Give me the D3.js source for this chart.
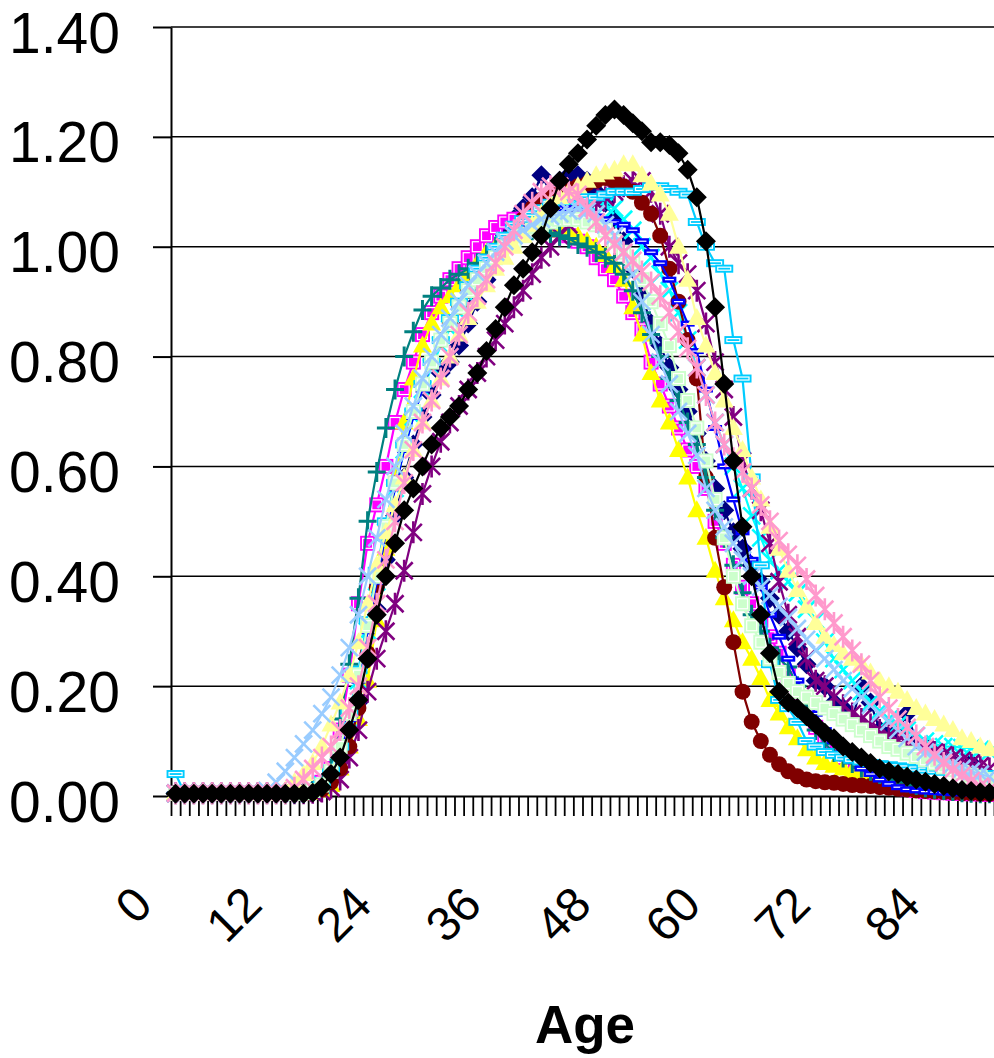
<!DOCTYPE html>
<html>
<head>
<meta charset="utf-8">
<script src="https://cdn.jsdelivr.net/npm/d3@7"></script>
<style>
  body { margin: 0; background: #fff; }
  svg { display: block; }
  text { font-family: "Liberation Sans", Arial, sans-serif; fill: #000; }
</style>
</head>
<body>
<div id="chart"></div>
<script>
// categories and tick labels
const ages = d3.range(0, 90);
const xTickAges = [0, 12, 24, 36, 48, 60, 72, 84];
const yTicks = [0, 0.2, 0.4, 0.6, 0.8, 1.0, 1.2, 1.4];

// series values, one per age 0..89
const navy = [
  .005,.005,.005,.005,.005,.005,.005,.005,.005,.005,
  .005,.005,.005,.005,.006,.01,.02,.04,.07,.12,
  .17,.25,.34,.43,.51,.58,.64,.69,.73,.77,
  .79,.82,.86,.90,.94,.98,1.02,1.05,1.07,1.09,
  1.13,1.10,1.12,1.13,1.13,1.12,1.10,1.08,1.05,1.01,
  .96,.91,.86,.82,.78,.74,.70,.66,.61,.56,
  .52,.48,.45,.42,.39,.36,.33,.30,.27,.24,
  .21,.20,.17,.16,.14,.20,.17,.12,.11,.12,
  .15,.10,.09,.08,.07,.06,.05,.06,.04,.03];
const magenta = [
  .005,.005,.005,.005,.005,.005,.005,.005,.005,.005,
  .005,.005,.005,.005,.006,.01,.025,.05,.12,.22,
  .35,.46,.53,.60,.68,.74,.79,.84,.88,.91,
  .94,.96,.98,1.0,1.02,1.035,1.045,1.05,1.05,1.045,
  1.04,1.035,1.03,1.02,1.01,1.0,.98,.96,.94,.91,
  .88,.85,.79,.75,.71,.67,.63,.60,.56,.50,
  .46,.42,.38,.35,.32,.29,.26,.22,.18,.15,
  .125,.10,.085,.07,.055,.045,.035,.028,.022,.017,
  .013,.01,.008,.007,.006,.005,.005,.004,.004,.003];
const yellow = [
  .005,.005,.005,.005,.005,.005,.005,.005,.005,.005,
  .005,.005,.005,.005,.005,.006,.01,.02,.05,.09,
  .14,.21,.32,.45,.58,.68,.76,.82,.86,.89,
  .91,.93,.95,.97,.99,1.0,1.01,1.02,1.025,1.03,
  1.03,1.03,1.03,1.025,1.02,1.01,1.0,.985,.965,.94,
  .89,.84,.77,.72,.68,.63,.58,.52,.47,.41,
  .36,.32,.28,.25,.215,.175,.15,.125,.105,.085,
  .07,.06,.055,.05,.045,.042,.038,.034,.03,.027,
  .024,.021,.018,.016,.014,.012,.01,.009,.008,.007];
const cyan = [
  .005,.005,.005,.005,.005,.005,.005,.005,.005,.005,
  .005,.005,.005,.005,.006,.01,.02,.04,.08,.14,
  .21,.30,.39,.48,.56,.63,.69,.74,.78,.82,
  .85,.88,.91,.94,.97,.99,1.01,1.03,1.04,1.05,
  1.06,1.07,1.075,1.08,1.08,1.08,1.08,1.075,1.07,1.05,
  1.03,1.0,.98,.95,.92,.88,.83,.78,.73,.68,
  .64,.60,.56,.51,.47,.43,.41,.39,.37,.34,
  .32,.28,.25,.23,.21,.19,.17,.155,.14,.13,
  .12,.11,.10,.095,.09,.09,.088,.087,.085,.08];
const purple = [
  .005,.005,.005,.005,.005,.005,.005,.005,.005,.005,
  .005,.005,.005,.005,.005,.006,.008,.015,.03,.07,
  .12,.19,.25,.30,.35,.41,.48,.55,.60,.645,
  .68,.71,.74,.77,.80,.83,.86,.89,.92,.95,
  .98,1.0,1.02,1.04,1.06,1.07,1.08,1.09,1.10,1.11,
  1.12,1.12,1.10,1.06,1.0,.97,.95,.92,.86,.79,
  .74,.69,.61,.56,.52,.46,.39,.33,.29,.25,
  .21,.20,.18,.165,.15,.14,.13,.12,.11,.10,
  .095,.09,.085,.08,.075,.07,.065,.06,.055,.05];
const maroon = [
  .005,.005,.005,.005,.005,.005,.005,.005,.005,.005,
  .005,.005,.005,.005,.005,.007,.012,.025,.05,.09,
  .16,.26,.38,.49,.57,.64,.70,.75,.79,.83,
  .86,.89,.92,.94,.97,.99,1.01,1.03,1.05,1.07,
  1.085,1.095,1.10,1.105,1.11,1.115,1.12,1.125,1.12,1.11,
  1.10,1.08,1.06,1.02,.96,.90,.83,.76,.58,.47,
  .38,.28,.19,.135,.10,.075,.058,.045,.036,.03,
  .027,.025,.024,.022,.02,.019,.018,.016,.015,.013,
  .012,.01,.009,.008,.007,.006,.005,.005,.004,.004];
const teal = [
  .005,.005,.005,.005,.005,.005,.005,.005,.005,.005,
  .005,.005,.005,.005,.006,.01,.02,.05,.14,.24,
  .36,.50,.59,.67,.74,.80,.845,.885,.91,.925,
  .94,.95,.96,.97,.985,1.0,1.01,1.02,1.025,1.03,
  1.03,1.025,1.02,1.015,1.005,1.0,.99,.98,.97,.95,
  .92,.88,.84,.80,.76,.72,.68,.64,.58,.52,
  .47,.42,.37,.33,.30,.27,.25,.235,.20,.16,
  .12,.095,.08,.07,.06,.052,.046,.04,.035,.03,
  .025,.02,.016,.013,.011,.009,.007,.006,.005,.005];
const blue = [
  .005,.005,.005,.005,.005,.005,.005,.005,.005,.005,
  .005,.005,.005,.005,.006,.01,.02,.04,.08,.14,
  .21,.30,.39,.48,.56,.63,.69,.74,.79,.83,
  .86,.89,.92,.95,.97,.99,1.01,1.03,1.04,1.05,
  1.06,1.07,1.07,1.07,1.065,1.06,1.055,1.05,1.045,1.04,
  1.03,1.01,.99,.97,.94,.90,.86,.81,.74,.67,
  .60,.54,.48,.43,.38,.33,.29,.25,.21,.18,
  .15,.12,.10,.08,.065,.05,.04,.03,.022,.016,
  .012,.01,.008,.007,.006,.005,.005,.005,.005,.005];
const skyBlue = [
  .04,.005,.005,.005,.005,.005,.005,.005,.005,.005,
  .005,.005,.005,.005,.006,.01,.02,.05,.09,.15,
  .23,.32,.41,.50,.57,.64,.70,.75,.79,.83,
  .87,.90,.93,.96,.98,1.0,1.02,1.04,1.05,1.06,
  1.07,1.08,1.085,1.09,1.09,1.09,1.09,1.095,1.10,1.10,
  1.10,1.105,1.11,1.11,1.105,1.10,1.095,1.045,1.0,.97,
  .96,.83,.76,.58,.42,.24,.175,.16,.135,.10,
  .09,.08,.075,.07,.066,.063,.06,.058,.056,.054,
  .052,.05,.048,.046,.044,.043,.042,.041,.04,.04];
const lightGreen = [
  .005,.005,.005,.005,.005,.005,.005,.005,.005,.005,
  .005,.005,.005,.005,.006,.01,.02,.045,.09,.15,
  .22,.31,.40,.49,.57,.64,.70,.75,.79,.83,
  .86,.89,.92,.94,.96,.98,1.0,1.01,1.02,1.03,
  1.04,1.045,1.05,1.05,1.05,1.045,1.04,1.03,1.01,.99,
  .97,.94,.90,.86,.82,.76,.72,.67,.61,.54,
  .47,.40,.35,.31,.28,.25,.225,.205,.19,.18,
  .17,.16,.15,.14,.13,.12,.11,.10,.09,.085,
  .078,.072,.066,.06,.053,.048,.043,.038,.034,.03];
const lightYellow = [
  .005,.005,.005,.005,.005,.005,.005,.005,.005,.005,
  .005,.008,.01,.025,.04,.06,.09,.13,.17,.22,
  .28,.35,.42,.48,.53,.58,.63,.68,.72,.76,
  .80,.84,.87,.90,.93,.96,.98,1.0,1.02,1.04,
  1.06,1.08,1.09,1.10,1.11,1.12,1.13,1.135,1.14,1.15,
  1.15,1.13,1.115,1.095,1.06,1.0,.94,.87,.82,.77,
  .72,.67,.63,.58,.54,.49,.45,.41,.375,.345,
  .315,.29,.275,.26,.25,.24,.225,.21,.20,.19,
  .175,.16,.15,.14,.13,.12,.105,.10,.09,.085];
const paleBlue = [
  .005,.005,.005,.005,.005,.005,.005,.005,.005,.005,
  .01,.025,.045,.07,.095,.12,.15,.18,.22,.27,
  .33,.40,.47,.54,.60,.66,.71,.76,.80,.84,
  .87,.90,.93,.95,.97,.99,1.01,1.02,1.03,1.04,
  1.05,1.055,1.06,1.065,1.07,1.065,1.06,1.04,1.02,.99,
  .95,.90,.84,.79,.75,.70,.66,.62,.56,.52,
  .49,.46,.43,.40,.38,.365,.345,.325,.305,.285,
  .265,.25,.23,.21,.195,.18,.165,.15,.135,.12,
  .105,.09,.08,.07,.065,.058,.05,.045,.04,.035];
const pink = [
  .005,.005,.005,.005,.005,.005,.005,.005,.005,.005,
  .005,.005,.005,.015,.03,.05,.07,.09,.12,.16,
  .20,.27,.35,.43,.50,.57,.63,.68,.72,.76,
  .80,.84,.88,.91,.94,.97,1.0,1.03,1.06,1.08,
  1.10,1.11,1.11,1.10,1.095,1.07,1.045,1.02,1.005,.99,
  .975,.955,.935,.91,.88,.845,.815,.78,.73,.68,
  .64,.615,.59,.56,.53,.50,.465,.44,.42,.395,
  .365,.34,.315,.29,.265,.24,.21,.18,.16,.14,
  .125,.11,.09,.075,.06,.048,.038,.028,.018,.012];
const black = [
  .004,.004,.004,.004,.004,.004,.004,.004,.004,.004,
  .004,.004,.004,.004,.004,.006,.016,.04,.07,.12,
  .175,.25,.33,.40,.46,.52,.56,.60,.64,.67,
  .69,.71,.74,.77,.81,.85,.89,.93,.96,.99,
  1.02,1.07,1.12,1.15,1.17,1.195,1.22,1.24,1.25,1.24,
  1.225,1.21,1.19,1.19,1.185,1.17,1.14,1.09,1.01,.89,
  .75,.61,.49,.40,.33,.26,.19,.17,.16,.145,
  .13,.115,.105,.09,.08,.07,.06,.05,.045,.04,
  .035,.03,.026,.022,.018,.014,.011,.009,.007,.006];

// drawing order and styling
const series = [
  { values: navy,        color: '#000080', marker: 'diamond' },
  { values: magenta,     color: '#FF00FF', marker: 'square' },
  { values: yellow,      color: '#FFFF00', marker: 'triangle' },
  { values: cyan,        color: '#00FFFF', marker: 'x' },
  { values: purple,      color: '#800080', marker: 'star' },
  { values: maroon,      color: '#800000', marker: 'circle' },
  { values: teal,        color: '#008080', marker: 'plus' },
  { values: blue,        color: '#0000FF', marker: 'dash' },
  { values: skyBlue,     color: '#00CCFF', marker: 'bar' },
  { values: lightGreen,  color: '#CCFFCC', marker: 'square' },
  { values: lightYellow, color: '#FFFF99', marker: 'triangle' },
  { values: paleBlue,    color: '#99CCFF', marker: 'x' },
  { values: pink,        color: '#FF99CC', marker: 'star' },
  { values: black,       color: '#000000', marker: 'diamond' }
];

const width = 994, height = 1058;
const plot = { left: 171, right: 994, top: 27, bottom: 796 };

const svg = d3.select('#chart')
  .append('svg')
  .attr('width', width)
  .attr('height', height);

const x = d3.scaleBand()
  .domain(ages)
  .range([plot.left, plot.right]);
const xEdge = d3.scaleLinear()
  .domain([0, ages.length])
  .range([plot.left, plot.right]);
const y = d3.scaleLinear()
  .domain([0, 1.4])
  .range([plot.bottom, plot.top]);
const cx = a => x(a) + x.bandwidth() / 2;

// gridlines
svg.append('g')
  .selectAll('line')
  .data(yTicks.filter(d => d > 0))
  .join('line')
    .attr('x1', plot.left)
    .attr('x2', plot.right)
    .attr('y1', d => y(d))
    .attr('y2', d => y(d))
    .attr('stroke', '#000')
    .attr('stroke-width', 1.5);

// y axis
const yAxis = svg.append('g')
  .attr('transform', `translate(${plot.left},0)`)
  .call(d3.axisLeft(y).tickValues(yTicks).tickFormat(d3.format('.2f'))
    .tickSize(18).tickSizeOuter(0).tickPadding(33));
yAxis.select('.domain').attr('stroke-width', 2);
yAxis.selectAll('.tick line').attr('stroke-width', 2);
yAxis.selectAll('.tick text')
  .attr('font-size', 57)
  .attr('font-family', '"Liberation Sans", Arial, sans-serif')
  .attr('dy', '0.44em');

// x axis, ticks between categories
const xAxis = svg.append('g')
  .attr('transform', `translate(0,${plot.bottom})`)
  .call(d3.axisBottom(xEdge).tickValues(d3.range(0, ages.length + 1))
    .tickFormat('').tickSize(20).tickSizeOuter(0));
xAxis.select('.domain').attr('stroke-width', 2);
xAxis.selectAll('.tick line').attr('stroke-width', 1.8);

svg.append('g')
  .selectAll('text')
  .data(xTickAges)
  .join('text')
    .attr('transform', d => `translate(${cx(d) - 21},907) rotate(-45)`)
    .attr('text-anchor', 'end')
    .attr('font-size', 48)
    .text(d => d);

svg.append('text')
  .attr('x', 585)
  .attr('y', 1043)
  .attr('text-anchor', 'middle')
  .attr('font-size', 53)
  .attr('font-weight', 'bold')
  .text('Age');

// markers
function drawMarker(g, type, color) {
  if (type === 'diamond') {
    g.append('path').attr('d', 'M0,-10L10,0L0,10L-10,0Z').attr('fill', color);
  } else if (type === 'square') {
    g.append('rect').attr('x', -7.5).attr('y', -7.5).attr('width', 15).attr('height', 15).attr('fill', color);
    g.append('rect').attr('x', -5).attr('y', -5).attr('width', 10).attr('height', 10)
      .attr('fill', 'none').attr('stroke', '#fff').attr('stroke-width', 1.2);
  } else if (type === 'triangle') {
    g.append('path').attr('d', 'M0,-10L9.5,7L-9.5,7Z').attr('fill', color);
  } else if (type === 'x') {
    g.append('path').attr('d', 'M-8.5,-8.5L8.5,8.5M-8.5,8.5L8.5,-8.5').attr('stroke', color).attr('stroke-width', 2.6);
  } else if (type === 'star') {
    g.append('path').attr('d', 'M-8.5,-8.5L8.5,8.5M-8.5,8.5L8.5,-8.5M0,-11V11').attr('stroke', color).attr('stroke-width', 2.6);
  } else if (type === 'circle') {
    g.append('circle').attr('r', 8).attr('fill', color);
  } else if (type === 'plus') {
    g.append('path').attr('d', 'M-9,0H9M0,-10V10').attr('stroke', color).attr('stroke-width', 3);
  } else if (type === 'dash') {
    g.append('rect').attr('x', -7).attr('y', -3).attr('width', 14).attr('height', 6).attr('fill', color);
    g.append('path').attr('d', 'M-4.5,0H4.5').attr('stroke', '#fff').attr('stroke-width', 1.2);
  } else if (type === 'bar') {
    g.append('rect').attr('x', -9).attr('y', -4).attr('width', 18).attr('height', 8).attr('fill', color);
    g.append('rect').attr('x', -6.5).attr('y', -1.5).attr('width', 13).attr('height', 3)
      .attr('fill', 'none').attr('stroke', '#fff').attr('stroke-width', 1.2);
  }
}

const line = d3.line()
  .x((d, i) => cx(ages[i]))
  .y(d => y(d));

series.forEach(s => {
  const g = svg.append('g');
  g.append('path')
    .attr('d', line(s.values))
    .attr('fill', 'none')
    .attr('stroke', s.color)
    .attr('stroke-width', 2.2);
  g.selectAll('g.m')
    .data(s.values)
    .join('g')
      .attr('class', 'm')
      .attr('transform', (d, i) => `translate(${cx(ages[i])},${y(d)})`)
      .each(function () { drawMarker(d3.select(this), s.marker, s.color); });
});
</script>
</body>
</html>
